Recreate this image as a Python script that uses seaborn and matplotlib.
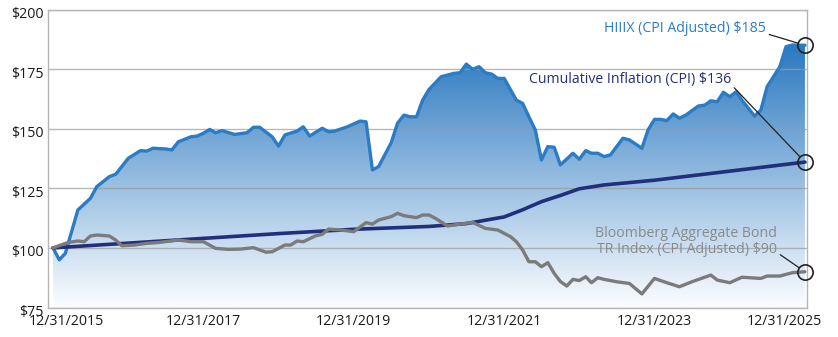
import numpy as np
import pandas as pd
import seaborn as sns
import matplotlib.pyplot as plt
import matplotlib.dates as mdates
from matplotlib.colors import LinearSegmentedColormap
from matplotlib.ticker import StrMethodFormatter
from matplotlib.transforms import ScaledTranslation

# values, indexed by months after 12/31/2015
fund_months = [0, 1, 2, 4, 6, 7, 9, 10, 12, 14, 15, 16, 18, 19, 20, 22, 23, 24, 25, 26,
               27, 29, 31, 32, 33, 35, 36, 37, 39, 40, 41, 43, 44, 45, 47, 49, 50, 51, 52, 54,
               55, 56, 57, 58, 59, 60, 62, 64, 65, 66, 67, 68, 69, 70, 71, 72, 74, 75, 76, 77,
               78, 79, 80, 81, 83, 84, 85, 86, 87, 88, 89, 91, 92, 94, 95, 96, 97, 98, 99, 100,
               101, 103, 104, 105, 106, 107, 108, 109, 110, 111, 112, 113, 114, 116, 117, 118, 120]
fund_values = [100, 95, 97.7, 115.9, 120.8, 125.7, 129.9, 130.9, 137.6, 140.8, 140.6, 141.8, 141.5, 141.1, 144.5, 146.6, 146.9, 148.1, 149.7, 148.3,
               149.2, 147.6, 148.3, 150.6, 150.6, 146.6, 142.7, 147.4, 149.0, 150.8, 146.9, 150.2, 148.7, 149.0, 150.8, 153.2, 152.9, 132.7, 134.1, 144.1,
               152.3, 155.7, 155.0, 155.0, 162.0, 166.5, 171.8, 173.2, 173.5, 177.1, 174.9, 176.0, 173.5, 172.9, 171.1, 171.1, 162.0, 160.6, 155.0, 149.5,
               136.9, 142.5, 142.2, 134.8, 139.7, 137.2, 140.8, 139.7, 139.7, 138.3, 139.0, 146.0, 145.3, 141.8, 149.5, 153.9, 153.9, 153.4, 156.2, 154.4,
               155.7, 159.5, 159.9, 161.7, 161.3, 165.3, 163.4, 165.5, 162.0, 158.6, 155.3, 157.8, 167.6, 176.0, 184.4, 185.1, 185.0]

cpi_months = [0, 12, 24, 36, 48, 60, 66, 72, 75, 78, 81, 84, 88, 96, 108, 120]
cpi_values = [100, 102, 104, 106, 107.8, 109, 110.2, 113, 116, 119.4, 122, 124.8, 126.4, 128.4, 132.2, 136]

bond_months = [0, 2, 3, 4, 5, 6, 7, 9, 10, 11, 13, 15, 17, 20, 22, 24, 26, 28, 30, 32,
               34, 35, 37, 38, 39, 40, 42, 43, 44, 46, 48, 50, 51, 52, 54, 55, 56, 58, 59, 60,
               61, 63, 65, 67, 69, 71, 73, 74, 75, 76, 77, 78, 79, 80, 81, 82, 83, 84, 85, 86,
               87, 88, 90, 92, 94, 96, 98, 100, 102, 105, 106, 108, 110, 113, 114, 116, 118, 120]
bond_values = [100, 101.9, 102.5, 102.9, 102.6, 105.0, 105.4, 105.0, 103.3, 100.9, 101.2, 101.9, 102.3, 103.3, 102.6, 102.6, 99.8, 99.4, 99.5, 100.1,
               98.2, 98.4, 101.2, 101.2, 102.9, 102.6, 105.1, 105.7, 107.9, 107.5, 106.8, 110.6, 110.0, 111.7, 113.1, 114.5, 113.5, 112.7, 113.8, 113.8,
               112.4, 109.2, 110.0, 110.7, 108.2, 107.5, 104.7, 102.6, 99.1, 94.2, 94.2, 92.1, 93.8, 89.3, 85.9, 84.0, 86.8, 86.3, 87.9, 85.4,
               87.5, 86.8, 85.8, 85.1, 80.7, 87.2, 85.4, 83.7, 85.8, 88.6, 86.5, 85.4, 87.7, 87.2, 88.2, 88.2, 89.6, 90.0]

tick_months = [0, 24, 48, 72, 96, 120]
y_ticks = [75, 100, 125, 150, 175, 200]

FUND_BLUE = '#2b7cc5'
CPI_NAVY = '#222f7d'
BOND_GRAY = '#7b7b7b'

month_ends = pd.date_range('2015-12-31', periods=121, freq='ME')
fund = pd.DataFrame({'date': month_ends[fund_months], 'value': fund_values})
cpi = pd.DataFrame({'date': month_ends[cpi_months], 'value': cpi_values})
bond = pd.DataFrame({'date': month_ends[bond_months], 'value': bond_values})

sns.set_style('white')
plt.rcParams['font.family'] = ['Open Sans', 'DejaVu Sans']

fig = plt.figure(figsize=(8.38, 3.37), dpi=100)
ax = fig.add_axes([48 / 838, 1 - 307.5 / 337, 759 / 838, 298 / 337])

# gradient fill under the fund line
fade = LinearSegmentedColormap.from_list('fade', ['#fbfdff', '#2a78c0'])
x0 = mdates.date2num(month_ends[0])
x1 = mdates.date2num(month_ends[-1])
grad = np.linspace(0, 1, 256).reshape(-1, 1)
img = ax.imshow(grad, cmap=fade, extent=[x0, x1, 75, 185], origin='lower',
                aspect='auto', zorder=1)
area = ax.fill_between(fund['date'], fund['value'], 75, color='none', lw=0)
img.set_clip_path(area.get_paths()[0], transform=ax.transData)

sns.lineplot(data=fund, x='date', y='value', color=FUND_BLUE, lw=2.4, ax=ax, zorder=3)
sns.lineplot(data=cpi, x='date', y='value', color=CPI_NAVY, lw=2.6, ax=ax, zorder=4)
sns.lineplot(data=bond, x='date', y='value', color=BOND_GRAY, lw=2.4, ax=ax, zorder=5)

ax.set_xlim(x0 - 24, x1 + 10)
ax.set_ylim(75, 200)
ax.set_xlabel('')
ax.set_ylabel('')

ax.set_yticks(y_ticks)
ax.yaxis.set_major_formatter(StrMethodFormatter('${x:.0f}'))
ax.set_xticks(month_ends[tick_months])
ax.xaxis.set_major_formatter(mdates.DateFormatter('%m/%d/%Y'))
ax.tick_params(length=0, labelsize=10.2, colors='#1a1a1a')
ax.tick_params(axis='y', pad=3)
ax.tick_params(axis='x', pad=5)

ax.set_axisbelow('line')
ax.yaxis.grid(True, color='#9a9a9a', alpha=0.7, lw=1.0)
ax.xaxis.grid(False)
for s in ax.spines.values():
    s.set_color('#b5b5b5')
    s.set_linewidth(1.0)

# y labels sit a little below their gridlines in the original
for lab in ax.get_yticklabels():
    lab.set_transform(lab.get_transform() + ScaledTranslation(0, -0.03, fig.dpi_scale_trans))

# nudge the end labels inwards like the original
labels = ax.get_xticklabels()
labels[0].set_transform(labels[0].get_transform() + ScaledTranslation(0.13, 0, fig.dpi_scale_trans))
labels[-1].set_transform(labels[-1].get_transform() + ScaledTranslation(-0.21, 0, fig.dpi_scale_trans))

# end markers and callouts
end = month_ends[-1]
ax.plot([end] * 3, [fund_values[-1], cpi_values[-1], bond_values[-1]], 'o', ms=11,
        mfc='none', mec='#222222', mew=1.2, zorder=6, clip_on=False)

def callout(text, value, dx, dy, color):
    ax.annotate(text, xy=(end, value), xytext=(dx * 0.72, dy * 0.72),
                textcoords='offset points', ha='right', va='center', color=color,
                fontsize=10.2, linespacing=1.05,
                arrowprops=dict(arrowstyle='-', color='#222222', lw=0.9,
                                relpos=(1, 0.15), shrinkA=0, shrinkB=5.5))

callout('HIIIX (CPI Adjusted) $185', fund_values[-1], -39, 17, FUND_BLUE)
callout('Cumulative Inflation (CPI) $136', cpi_values[-1], -74, 83, CPI_NAVY)
callout('Bloomberg Aggregate Bond\nTR Index (CPI Adjusted) $90', bond_values[-1], -28, 30, '#8a8a8a')

fig.savefig('out.png', dpi=100)
